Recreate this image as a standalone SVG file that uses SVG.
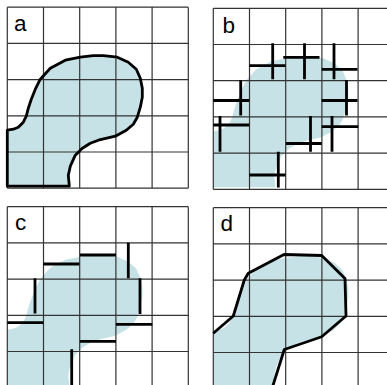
<svg xmlns="http://www.w3.org/2000/svg" width="387" height="385" viewBox="0 0 387 385">
<style>
.bg{fill:#ffffff}
.blob{fill:#c6e2e6;stroke:none}
.grid{fill:none;stroke:#333333;stroke-width:1.2}
.thick{fill:none;stroke:#000000;stroke-width:2.8;stroke-linecap:butt;stroke-linejoin:round}
.label{font-family:"Liberation Sans",Arial,sans-serif;font-size:22.5px;fill:#000000}
</style>
<defs>
<polygon id="blob" points="0,179 0,123 6,122 11,120 16,115 19,109 21,101 24,92 28,82 33,72 43,61 58,53 73,50 86,48.5 96,48.5 110,50 121,55 129,62 133,71 135,81 135,90 133,100 130,110 126,117 119,123 108,129 91,133 83,136 75,141 68,148 63,159 61,168 62,179"/>
<path id="gridA" d="M0,0V181M36.2,0V181M72.4,0V181M108.6,0V181M144.8,0V181M181,0V181M0,0H181M0,36.2H181M0,72.4H181M0,108.6H181M0,144.8H181M0,181H181"/>
<path id="gridB" d="M0,0V181M36.2,0V181M72.4,0V181M108.6,0V181M144.8,0V181M0,0H180M0,36.2H180M0,72.4H180M0,108.6H180M0,144.8H180M0,181H180"/>
</defs>
<rect class="bg" x="0" y="0" width="387" height="385"/>

<g id="panel-a">
<use href="#blob" class="blob" transform="translate(7.3,7.2)"/>
<use href="#gridA" class="grid" transform="translate(7.3,7.2)"/>
<use href="#blob" class="thick" transform="translate(7.3,7.2)"/>
<text class="label" x="14" y="31">a</text>
</g>

<g id="panel-b">
<use href="#blob" class="blob" transform="translate(213.3,8.3)"/>
<use href="#gridB" class="grid" transform="translate(213.3,8.3)"/>
<text class="label" x="222.5" y="33">b</text>
</g>

<g id="panel-c">
<use href="#blob" class="blob" transform="translate(7.3,206.7)"/>
<use href="#gridA" class="grid" transform="translate(7.3,206.7)"/>
<text class="label" x="15" y="230">c</text>
</g>

<g id="panel-d">
<use href="#blob" class="blob" transform="translate(213.3,207.7)"/>
<use href="#gridB" class="grid" transform="translate(213.3,207.7)"/>
<text class="label" x="220.5" y="231">d</text>
</g>

<g id="connectors">
<path class="thick" d="M249.3,65.7H285.5M272.7,43.3V79.3
M283.3,57.3H319.5M304.5,43.3V79.3
M321.7,69.3H357.5M334,43.3V79.3
M213.3,100.5H249.3M240.7,80V115.5
M321.7,100.5H357.5M346.5,80V115.5
M213.3,125H249.3M220,116V151.7
M286,143.5H321.7M310.5,116V151.7
M321.7,126.7H358.3M332,116V151.7
M249.3,175H285.5M278.3,151.7V187.5"/>
<path class="thick" d="M43.3,264H79.3
M80,255H116
M128.3,242.7V278.3
M35,278.3V313.5
M140,278.3V314
M7.3,322.7H43.3
M116,324.3H152.3
M80,341.3H116
M71.7,349.3V386"/>
<polyline class="thick" points="213.3,333.3 233.3,316 244.3,280 248.3,273.3 284,254.5 321.7,255.5 345,278.5 346,316 321.7,336.7 284.3,349.5 272.5,387"/>
</g>
</svg>
